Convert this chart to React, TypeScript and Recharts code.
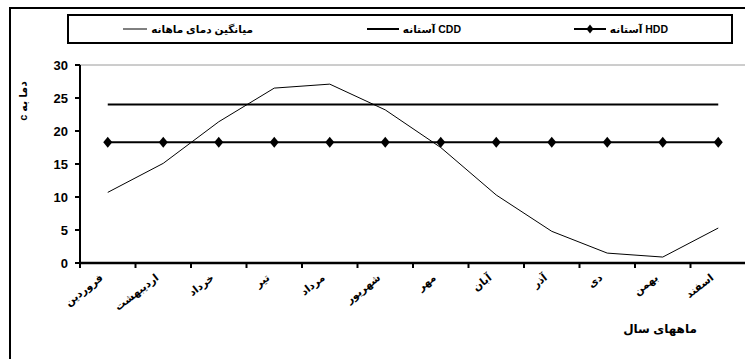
import React from 'react';
import { LineChart, Line, XAxis, YAxis, ReferenceLine, Legend } from 'recharts';

const months = ['فروردین', 'اردیبهشت', 'خرداد', 'تیر', 'مرداد', 'شهریور', 'مهر', 'آبان', 'آذر', 'دی', 'بهمن', 'اسفند'];
const meanTemp = [10.7, 15.1, 21.4, 26.5, 27.1, 23.2, 17.5, 10.3, 4.8, 1.5, 0.9, 5.3];
const hddThreshold = [18.3, 18.3, 18.3, 18.3, 18.3, 18.3, 18.3, 18.3, 18.3, 18.3, 18.3, 18.3];
const cddThreshold = [24, 24, 24, 24, 24, 24, 24, 24, 24, 24, 24, 24];
const yTicks = [0, 5, 10, 15, 20, 25, 30];
const seriesNames = { hdd: 'آستانه HDD', cdd: 'آستانه CDD', mean: 'میانگین دمای ماهانه' };
const yTitle = 'دما به c';
const xTitle = 'ماههای سال';

const data = months.map((m, i) => ({ month: m, mean: meanTemp[i], hdd: hddThreshold[i], cdd: cddThreshold[i] }));

const CHART_W = 746;
const CHART_H = 359;
const PLOT_LEFT = 80;
const PLOT_W = CHART_W - PLOT_LEFT;
const BAND = PLOT_W / months.length;
const FONT = '"Liberation Sans", Arial, "DejaVu Sans", sans-serif';

const Diamond = (props: any) => {
  const { cx, cy, index } = props;
  if (cx == null || cy == null) return null;
  return <polygon key={`d${index}`} points={`${cx},${cy - 5.5} ${cx + 4.5},${cy} ${cx},${cy + 5.5} ${cx - 4.5},${cy}`} fill="#000" />;
};

const XTick = (props: any) => {
  const { x, y, payload } = props;
  return (
    <g>
      <line x1={x - BAND / 2} x2={x - BAND / 2} y1={y - 5} y2={y} stroke="#000" strokeWidth={2} />
      <text
        transform={`translate(${x - 4},${y + 11}) rotate(-38)`}
        textAnchor="end"
        fontFamily={FONT}
        fontWeight="bold"
        fontSize={10.5}
        fill="#000"
      >
        {payload.value}
      </text>
    </g>
  );
};

const LegendContent = () => {
  const item = (key: string, label: string, marker: boolean, thin: boolean, right: number) => (
    <div key={key} style={{ position: 'absolute', top: 0, height: 26, right, display: 'flex', flexDirection: 'row', alignItems: 'center', gap: 4 }}>
      <svg width={thin ? 24 : 32} height={12}>
        <line x1={0} x2={thin ? 24 : 32} y1={6} y2={6} stroke="#000" strokeWidth={thin ? 1 : 2} />
        {marker && <polygon points="16,1.5 19.5,6 16,10.5 12.5,6" fill="#000" />}
      </svg>
      <span style={{ fontFamily: FONT, fontWeight: 'bold', fontSize: 10.5, color: '#000', whiteSpace: 'nowrap' }}>{label}</span>
    </div>
  );
  return (
    <div style={{ position: 'relative', width: 662, height: 26, border: '2px solid #000' }}>
      {item('hdd', seriesNames.hdd, true, false, 63)}
      {item('cdd', seriesNames.cdd, false, false, 270)}
      {item('mean', seriesNames.mean, false, true, 478)}
    </div>
  );
};

export default function App() {
  return (
    <div style={{ position: 'absolute', left: 0, top: 0, width: 745, height: 359, overflow: 'hidden', background: '#fff' }}>
      <div style={{ position: 'absolute', left: 9, top: 7, width: 900, height: 500, borderLeft: '2px solid #000', borderTop: '2px solid #000' }} />
      <div style={{ position: 'absolute', left: 0, top: 0 }}>
        <LineChart width={CHART_W} height={CHART_H} data={data} margin={{ top: 65, right: 0, bottom: 0, left: 0 }}>
          <ReferenceLine y={30} stroke="#9a9a9a" strokeWidth={1} ifOverflow="extendDomain" />
          <XAxis
            dataKey="month"
            interval={0}
            height={CHART_H - 263}
            padding={{ left: BAND / 2, right: BAND / 2 }}
            tickLine={false}
            tickSize={5}
            tickMargin={0}
            axisLine={{ stroke: '#000', strokeWidth: 2.5 }}
            tick={<XTick />}
            label={{
              content: () => (
                <text x={660} y={333} textAnchor="middle" fontFamily={FONT} fontWeight="bold" fontSize={12} fill="#000">
                  {xTitle}
                </text>
              ),
            }}
          />
          <YAxis
            width={PLOT_LEFT}
            domain={[0, 30]}
            ticks={yTicks}
            interval={0}
            tickSize={5}
            tickMargin={7}
            axisLine={{ stroke: '#000', strokeWidth: 2 }}
            tickLine={{ stroke: '#000', strokeWidth: 2 }}
            tick={{ fontFamily: FONT, fontWeight: 'bold', fontSize: 13, fill: '#000' }}
            label={{
              content: () => (
                <text transform="translate(27,101) rotate(-90)" direction="rtl" textAnchor="middle" fontFamily={FONT} fontWeight="bold" fontSize={11} fill="#000">
                  {yTitle}
                </text>
              ),
            }}
          />
          <Legend
            layout="horizontal"
            verticalAlign="middle"
            align="center"
            content={<LegendContent />}
            wrapperStyle={{ position: 'absolute', left: 67, top: 14, width: 666, height: 30 }}
          />
          <Line dataKey="mean" name={seriesNames.mean} stroke="#000" strokeWidth={1} dot={false} isAnimationActive={false} />
          <Line dataKey="cdd" name={seriesNames.cdd} stroke="#000" strokeWidth={2} dot={false} isAnimationActive={false} />
          <Line dataKey="hdd" name={seriesNames.hdd} stroke="#000" strokeWidth={2} dot={<Diamond />} isAnimationActive={false} />
        </LineChart>
      </div>
    </div>
  );
}
